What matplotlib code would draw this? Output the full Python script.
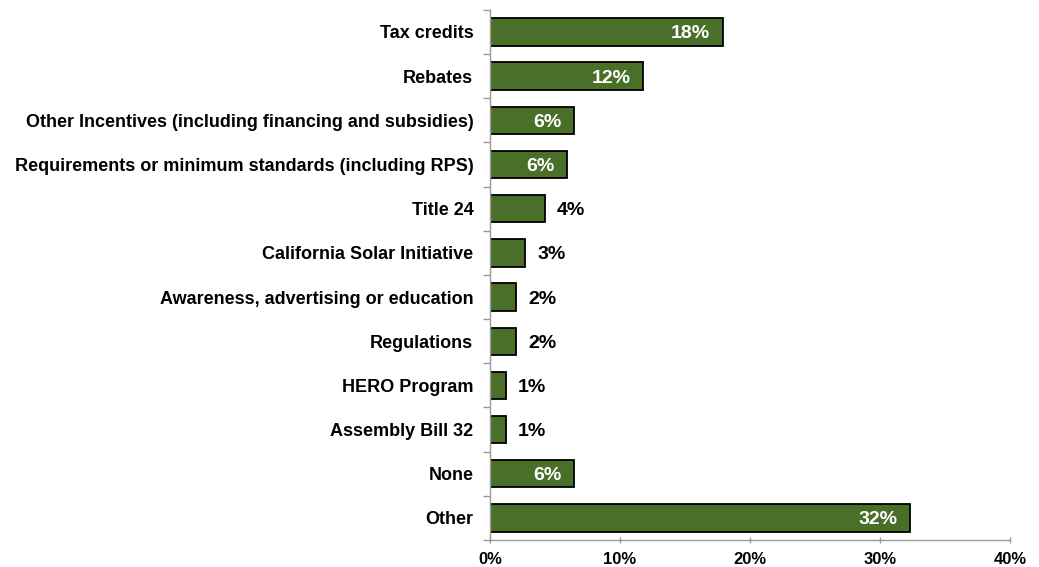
import matplotlib.pyplot as plt

plt.rcParams['font.family'] = ['Liberation Sans', 'DejaVu Sans']

# data, top to bottom
categories = [
    "Tax credits",
    "Rebates",
    "Other Incentives (including financing and subsidies)",
    "Requirements or minimum standards (including RPS)",
    "Title 24",
    "California Solar Initiative",
    "Awareness, advertising or education",
    "Regulations",
    "HERO Program",
    "Assembly Bill 32",
    "None",
    "Other",
]
values = [17.9, 11.8, 6.5, 5.9, 4.2, 2.7, 2.0, 2.0, 1.2, 1.2, 6.5, 32.3]
value_labels = ["18%", "12%", "6%", "6%", "4%", "3%", "2%", "2%", "1%", "1%", "6%", "32%"]
inside = [True, True, True, True, False, False, False, False, False, False, True, True]

fig = plt.figure(figsize=(10.39, 5.67), dpi=100)
ax = fig.add_axes([0.4716, 0.0476, 0.5004, 0.935])

ypos = list(range(len(categories)))
ax.barh(ypos, values, height=0.62, color="#4a6f28", edgecolor="black", linewidth=1.3)

for y, v, lab, ins in zip(ypos, values, value_labels, inside):
    if ins:
        ax.annotate(lab, (v, y), xytext=(-9, 0), textcoords="offset points",
                    ha="right", va="center_baseline", color="white", fontsize=14, fontweight="bold")
    else:
        ax.annotate(lab, (v, y), xytext=(9, 0), textcoords="offset points",
                    ha="left", va="center_baseline", color="black", fontsize=14, fontweight="bold")

ax.set_xlim(0, 40)
ax.set_ylim(len(categories) - 0.5, -0.5)
ax.set_xticks([0, 10, 20, 30, 40])
ax.set_xticklabels(["0%", "10%", "20%", "30%", "40%"], fontsize=12, fontweight="bold")

# category labels, ticks sit between categories
ax.set_yticks(ypos)
ax.set_yticklabels(categories, fontsize=13, fontweight="bold")
ax.tick_params(axis="y", which="major", length=0, pad=12)
ax.set_yticks([i - 0.5 for i in range(len(categories) + 1)], minor=True)
ax.tick_params(axis="y", which="minor", length=5, color="#999999", width=1)
ax.tick_params(axis="x", length=5, color="#999999", width=1, direction="inout", pad=6)

for s in ["top", "right"]:
    ax.spines[s].set_visible(False)
for s in ["left", "bottom"]:
    ax.spines[s].set_color("#999999")
    ax.spines[s].set_linewidth(1)

fig.savefig("out.png", dpi=100)
